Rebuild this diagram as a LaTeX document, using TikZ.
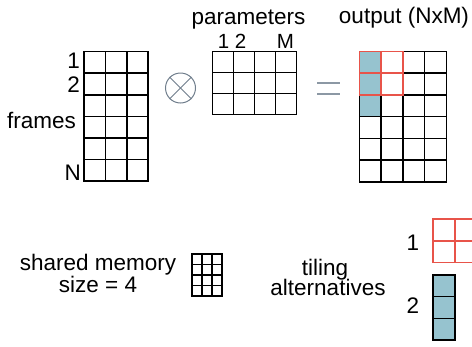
\documentclass[tikz,border=0pt]{standalone}
\usepackage{fontspec}
\setmainfont{Liberation Sans}
\definecolor{tilered}{RGB}{232,84,74}
\definecolor{tileblue}{RGB}{150,195,207}
\definecolor{opgray}{RGB}{112,126,140}
\definecolor{eqgray}{RGB}{140,152,164}

% \cellgrid{x}{y}{cols}{rows}{cell width}{cell height}{line style}
\newcommand{\cellgrid}[7]{%
  \foreach \i in {0,...,#3}{\draw[#7] ({#1+\i*#5},#2) -- ({#1+\i*#5},{#2+#4*#6});}
  \foreach \j in {0,...,#4}{\draw[#7] (#1,{#2+\j*#6}) -- ({#1+#3*#5},{#2+\j*#6});}
}

\tikzset{
  lbl/.style={font=\fontsize{22.5}{26}\selectfont, inner sep=0pt, anchor=base},
  collbl/.style={font=\fontsize{20.5}{24}\selectfont, inner sep=0pt, anchor=base},
  rowlbl/.style={font=\fontsize{22.5}{26}\selectfont, inner sep=0pt, anchor=base east},
  cellline/.style={draw=black, line width=1.6pt, line cap=rect},
  smallline/.style={draw=black, line width=1.4pt, line cap=rect},
  tileline/.style={draw=tilered, line width=1.8pt, line cap=rect},
  tilefill/.style={fill=tileblue},
  opline/.style={draw=opgray, line width=1pt},
  eqline/.style={draw=eqgray, line width=1.6pt},
}

\begin{document}
\begin{tikzpicture}[x=1pt,y=-1pt]
\useasboundingbox (0,0) rectangle (472,346);
\clip (0,0) rectangle (472,346);

% frames matrix (N x 3)
\cellgrid{84}{51.5}{3}{6}{21.4}{21.6}{cellline}
\node[rowlbl] (f1) at (80,68) {1};
\node[rowlbl] (f2) at (80,92) {2};
\node[rowlbl] (fr) at (76,128) {frames};
\node[rowlbl] (fn) at (81,180) {N};

% tensor product symbol
\node[circle, opline, minimum size=30pt, inner sep=0pt] (prod) at (180.5,88) {};
\draw[opline] (prod.north west) -- (prod.south east);
\draw[opline] (prod.north east) -- (prod.south west);

% parameters matrix (3 x M)
\cellgrid{212.5}{51.5}{4}{3}{21}{21}{cellline}
\node[lbl] (par) at (248.5,24) {parameters};
\node[collbl] (p12) at (232,48) {1 2};
\node[collbl] (pm) at (285.5,48) {M};

% equals sign
\coordinate (eqa) at (317,83);
\coordinate (eqb) at (340,83);
\coordinate (eqc) at (317,94);
\coordinate (eqd) at (340,94);
\draw[eqline] (eqa) -- (eqb);
\draw[eqline] (eqc) -- (eqd);

% output matrix (N x M) with both tiles marked
\fill[tilefill] (359.5,51.5) rectangle (381.2,116.6);
\cellgrid{359.5}{51.5}{4}{6}{21.7}{21.7}{cellline}
\cellgrid{359.5}{51.5}{2}{2}{21.7}{21.7}{tileline}
\node[lbl] (out) at (404,23.5) {output (NxM)};

% shared memory
\node[lbl] (sm1) at (98,270) {shared memory};
\node[lbl] (sm2) at (98,292) {size = 4};
\cellgrid{192}{254}{3}{4}{10}{10.5}{smallline}

% tiling alternatives
\node[lbl] (ta1) at (325,275) {tiling};
\node[lbl] (ta2) at (328,295.5) {alternatives};
\node[lbl] (t1) at (413,250) {1};
\cellgrid{433}{219}{2}{2}{21.7}{21.7}{tileline}
\node[lbl] (t2) at (413,313.5) {2};
\fill[tilefill] (433,275) rectangle (454.7,340);
\cellgrid{433}{275}{1}{3}{21.7}{21.67}{cellline}
\end{tikzpicture}
\end{document}
